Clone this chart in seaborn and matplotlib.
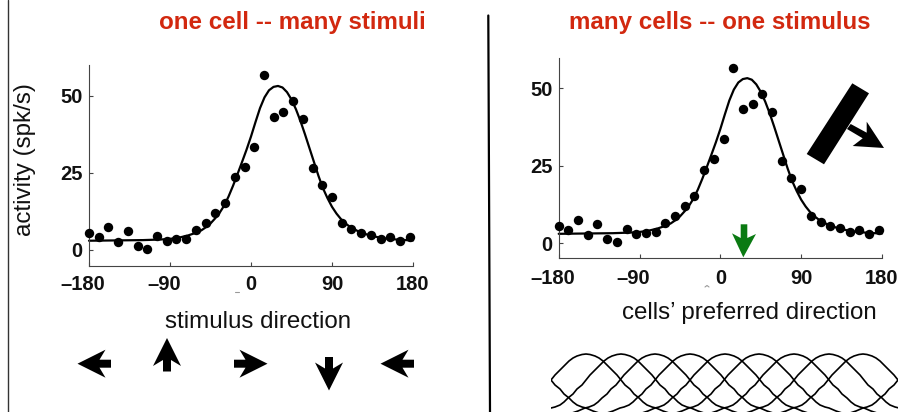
import numpy as np
import pandas as pd
import seaborn as sns
import matplotlib.pyplot as plt
from matplotlib.patches import Polygon, Rectangle
from matplotlib.transforms import ScaledTranslation

# measured responses (both panels show the same data)
directions = [-180, -169.2, -158.4, -147.6, -136.8, -126, -115.2, -104.4, -93.6, -82.8, -72, -61.2,
              -50.4, -39.6, -28.8, -18, -7.2, 3.6, 14.4, 25.2, 36, 46.8, 57.6, 68.4, 79.2, 90,
              100.8, 111.6, 122.4, 133.2, 144, 154.8, 165.6, 176.4]
rates = [5.5, 4.3, 7.6, 2.6, 6.1, 1.4, 0.2, 4.4, 3.0, 3.4, 3.7, 6.5,
         8.8, 12.0, 15.2, 23.7, 27.0, 33.5, 56.6, 43.2, 44.9, 48.2, 42.4, 26.6, 21.1, 17.3,
         8.8, 6.7, 5.6, 4.8, 3.7, 4.2, 2.8, 4.3]

# fitted curve
fit_x = [-180, -150, -120, -100, -90, -80, -70, -60, -55, -50, -45, -40, -35, -30, -25, -20, -15, -10, -5,
         0, 5, 10, 15, 20, 25, 30, 35, 40, 45, 50, 55, 60, 65, 70, 75, 80, 85, 90, 95, 100, 105, 110,
         120, 130, 140, 150, 165, 180]
fit_y = [3.0, 3.1, 3.2, 3.4, 3.6, 4.0, 4.7, 5.7, 6.4, 7.4, 8.6, 10.2, 12.0, 14.3, 17.3, 20.8, 24.6, 28.5, 32.5,
         36.8, 41.5, 46.0, 49.5, 51.8, 52.9, 53.2, 52.7, 51.2, 48.8, 45.6, 41.8, 37.5, 33.0, 28.5, 24.0, 20.0, 16.8, 14.0, 11.8, 10.0, 8.6, 7.5,
         5.9, 4.9, 4.2, 3.7, 3.3, 3.1]

x_ticks = [-180, -90, 0, 90, 180]
x_labels = ['\u2013180', '\u201390', '0', '90', '180']
y_ticks = [0, 25, 50]

# one tuning curve of the sketch at the bottom right, in pixels from its peak
bump_dx = [0, 4, 9, 13, 17, 22, 26, 31, 35, 39, 44, 48, 53, 57, 61, 66, 70, 77, 83]
bump_y = [354, 354.5, 356, 358, 361, 366, 370, 375, 380, 385, 389, 394, 398, 402, 405, 407, 408, 411, 413]
bump_peaks = [516, 586, 621, 655, 690, 725, 759, 794, 829, 863, 933]

# arrow glyphs under the left panel: centre x, centre y, angle
glyph_x = [94.5, 167, 250.5, 329, 397.5]
glyph_y = [363.7, 355, 363.7, 373.5, 363.7]
glyph_angle = [180, 90, 0, -90, 180]

sns.set_theme(style='ticks')
plt.rcParams['font.family'] = ['Liberation Sans', 'DejaVu Sans']

W, H = 901, 412
fig = plt.figure(figsize=(W / 100, H / 100), dpi=100)


def make_axes(x0, x1, y_top, y_bot):
    return fig.add_axes([x0 / W, 1 - y_bot / H, (x1 - x0) / W, (y_bot - y_top) / H])


def draw_panel(ax, ylim, xpad):
    df = pd.DataFrame({'x': directions, 'y': rates})
    fit = pd.DataFrame({'x': fit_x, 'y': fit_y})
    sns.lineplot(data=fit, x='x', y='y', color='black', linewidth=1.6, ax=ax, clip_on=False)
    sns.scatterplot(data=df, x='x', y='y', color='black', s=46, linewidth=0, ax=ax, clip_on=False, zorder=3)
    ax.set_xlim(-180, 180)
    ax.set_ylim(*ylim)
    ax.set_xlabel('')
    ax.set_ylabel('')
    ax.set_xticks(x_ticks)
    ax.set_xticklabels(x_labels)
    ax.set_yticks(y_ticks)
    ax.tick_params(direction='in', length=3, width=0.8, color='#444444',
                   labelsize=14.5, labelcolor='#111111')
    ax.tick_params(axis='x', pad=xpad)
    ax.tick_params(axis='y', pad=4.5)
    for lab in ax.get_xticklabels() + ax.get_yticklabels():
        lab.set_fontweight('bold')
    # the minus sign hangs out to the left in the original labels
    for lab in ax.get_xticklabels()[:2]:
        lab.set_transform(lab.get_transform() + ScaledTranslation(-6 / 100, 0, fig.dpi_scale_trans))
    sns.despine(ax=ax)
    for side in ['left', 'bottom']:
        ax.spines[side].set_linewidth(0.8)
        ax.spines[side].set_color('#444444')
    ax.patch.set_alpha(0)


ax1 = make_axes(89, 413, 65, 266)
draw_panel(ax1, (-5.2, 60), 6.5)
ax2 = make_axes(558.7, 882, 58, 258)
draw_panel(ax2, (-4.8, 59.7), 8)

# overlay in pixel coordinates for the sketch parts of the slide
ov = fig.add_axes([0, 0, 1, 1], zorder=-1)
ov.set_xlim(0, W)
ov.set_ylim(H, 0)
ov.axis('off')
top = fig.add_axes([0, 0, 1, 1], zorder=5)
top.set_xlim(0, W)
top.set_ylim(H, 0)
top.axis('off')

ov.plot([7.5, 7.5], [0, H], color='#333333', lw=1)
ov.plot([488.3, 490], [15.5, H], color='black', lw=1.6)
ov.plot([235, 239], [292, 292], color='#999999', lw=0.8)
ov.plot([705, 707, 709], [287, 285.5, 287], color='#999999', lw=0.8)

red = '#d2280f'
top.text(292.5, 22, 'one cell -- many stimuli', color=red, fontsize=17.4, fontweight='bold', ha='center', va='center')
top.text(720, 22, 'many cells -- one stimulus', color=red, fontsize=17.4, fontweight='bold', ha='center', va='center')
top.text(25, 160, 'activity (spk/s)', fontsize=17.4, rotation=90, ha='center', va='center', color='#111111')
top.text(258.5, 322, 'stimulus direction', fontsize=17.4, ha='center', va='center', color='#111111')
top.text(749.5, 313, 'cells\u2019 preferred direction', fontsize=17.4, ha='center', va='center', color='#111111')

# arrow outline pointing right, about its centre
arrow_x = np.array([-16.5, -5, -11, 17, -11, -5, -16.5])
arrow_y = np.array([-4, -4, -14, 0, 14, 4, 4])
for cx, cy, ang in zip(glyph_x, glyph_y, glyph_angle):
    a = np.deg2rad(ang)
    px = cx + arrow_x * np.cos(a) + arrow_y * np.sin(a)
    py = cy - arrow_x * np.sin(a) + arrow_y * np.cos(a)
    top.add_patch(Polygon(np.column_stack([px, py]), closed=True, fc='black', ec='none'))

# moving bar and its arrow
top.add_patch(Polygon([[852.3, 83.3], [869, 93.3], [824, 164.3], [806.7, 154]], closed=True, fc='black', ec='none'))
top.add_patch(Polygon([[850.7, 124], [866.7, 132.7], [866.7, 121.7], [884, 148], [852.7, 146], [862.7, 138.3], [847, 129]],
                      closed=True, fc='black', ec='none'))

# green arrow on the right panel
top.add_patch(Polygon([[740.7, 224.3], [747.3, 224.3], [747.3, 238], [756, 234], [743.3, 257.3], [732, 233.3], [740.7, 238]],
                      closed=True, fc='#0a7a12', ec='none'))

# tuning curve sketch
clip = Rectangle((551, 340), 347, 72, transform=top.transData)
for peak in bump_peaks:
    dx = np.array(bump_dx, dtype=float)
    y = np.array(bump_y, dtype=float)
    xs = np.concatenate([peak - dx[::-1], peak + dx[1:]])
    ys = np.concatenate([y[::-1], y[1:]])
    sns.lineplot(x=xs, y=ys, color='black', linewidth=1.2, ax=top, sort=False, estimator=None)
    top.lines[-1].set_clip_path(clip)

top.set_xlim(0, W)
top.set_ylim(H, 0)
top.set_xlabel('')
top.set_ylabel('')

fig.savefig('out.png', dpi=100, facecolor='white')
